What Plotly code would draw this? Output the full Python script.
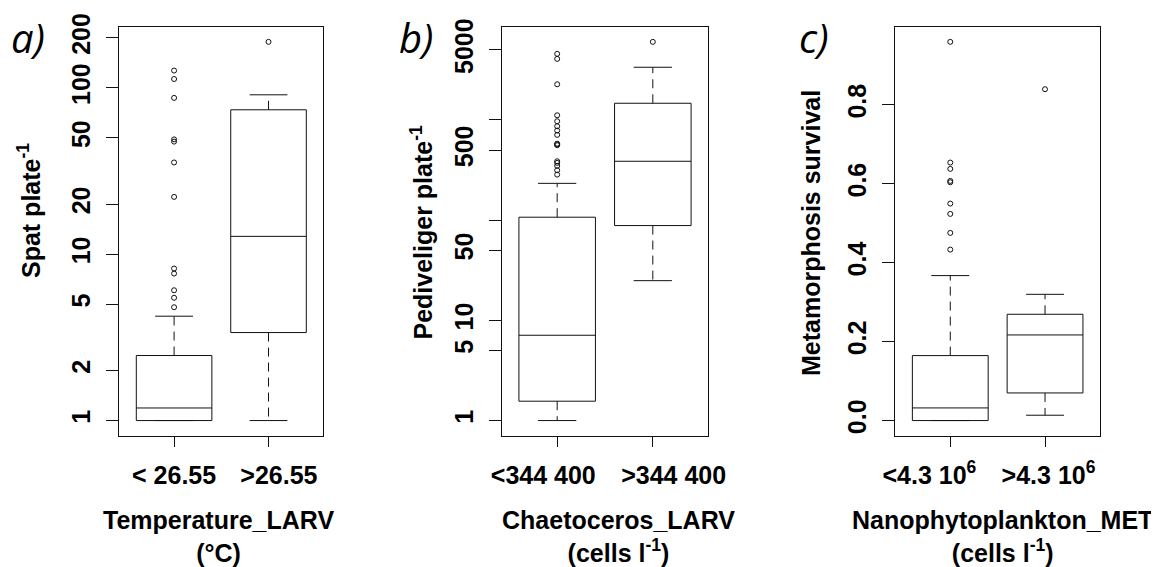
import plotly.graph_objects as go
import math

# ---------------- data ----------------
positions = [1, 2]

# Panel a: Spat plate^-1 by Temperature_LARV
a_labels = ["< 26.55", ">26.55"]
a_low = [1.0, 1.0]
a_q1 = [1.0, 3.38]
a_med = [1.19, 12.8]
a_q3 = [2.46, 73.8]
a_high = [4.24, 90.8]
a_out = [[4.8, 5.47, 6.07, 7.65, 8.2, 22.1, 35.6, 47.5, 49.0, 87.0, 113.0, 127.0],
         [189.0]]

# Panel b: Pediveliger plate^-1 by Chaetoceros_LARV
b_labels = ["<344 400", ">344 400"]
b_low = [1.0, 24.9]
b_q1 = [1.56, 88.3]
b_med = [7.1, 387.0]
b_q3 = [107.0, 1468.0]
b_high = [233.0, 3357.0]
b_out = [[285.0, 315.0, 348.0, 373.0, 387.0, 560.0, 570.0, 580.0, 710.0, 784.0,
          865.0, 971.0, 1114.0, 2270.0, 4070.0, 4570.0],
         [6020.0]]

# Panel c: Metamorphosis survival by Nanophytoplankton_MET
c_labels = ["<4.3 10<sup>6</sup>", ">4.3 10<sup>6</sup>"]
c_low = [0.0, 0.0135]
c_q1 = [0.0, 0.070]
c_med = [0.032, 0.217]
c_q3 = [0.1647, 0.2694]
c_high = [0.3675, 0.320]
c_out = [[0.4334, 0.4757, 0.5238, 0.550, 0.6040, 0.6075, 0.638, 0.654, 0.96],
         [0.840]]

a_yticks = [1, 2, 5, 10, 20, 50, 100, 200]
a_yticktext = ["1", "2", "5", "10", "20", "50", "100", "200"]
b_yticks = [1, 5, 10, 50, 500, 5000]
b_yticktext = ["1", "5", "10", "50", "500", "5000"]
b_yminor = [100, 1000]          # unlabeled ticks
c_yticks = [0.0, 0.2, 0.4, 0.6, 0.8]
c_yticktext = ["0.0", "0.2", "0.4", "0.6", "0.8"]

a_ytitle = "Spat plate<sup>-1</sup>"
b_ytitle = "Pediveliger plate<sup>-1</sup>"
c_ytitle = "Metamorphosis survival"
a_xtitle = "Temperature_LARV<br>(°C)"
b_xtitle = "Chaetoceros_LARV<br>(cells l<sup>-1</sup>)"
c_xtitle = "Nanophytoplankton_MET<br>(cells l<sup>-1</sup>)"
panel_letters = ["a)", "b)", "c)"]

# ---------------- style / layout helpers ----------------
FONT = "Liberation Sans, Arial, sans-serif"
BLACK = "#111111"
BOXW = 0.8
CAPW = 0.4
NB = "\u00a0"

# page body has an 8px margin: size the figure to fit the window
OFF = 8
W, H = 1159 - OFF, 567 - OFF


def px_x(X):
    return (X - OFF) / W


def px_y(Y):
    return (567 - Y) / H


# label padding (non-breaking spaces) to shift tick texts off-centre like the original
pads = [(0, 0, 3, 0), (0, 4, 6, 0), (0, 6, 1, 0)]

fig = go.Figure()

panels = [
    dict(low=a_low, q1=a_q1, med=a_med, q3=a_q3, high=a_high, out=a_out, log=True,
         xa="x", ya="y"),
    dict(low=b_low, q1=b_q1, med=b_med, q3=b_q3, high=b_high, out=b_out, log=True,
         xa="x2", ya="y2"),
    dict(low=c_low, q1=c_q1, med=c_med, q3=c_q3, high=c_high, out=c_out, log=False,
         xa="x3", ya="y3"),
]

for p in panels:
    # boxes with median
    fig.add_trace(go.Box(
        x=positions, q1=p["q1"], median=p["med"], q3=p["q3"],
        lowerfence=p["q1"], upperfence=p["q3"],
        width=BOXW, whiskerwidth=0, boxpoints=False,
        fillcolor="rgba(255,255,255,0)",
        line=dict(color=BLACK, width=1),
        xaxis=p["xa"], yaxis=p["ya"], showlegend=False, hoverinfo="skip"))
    # dashed whiskers
    wx, wy = [], []
    for i, pos in enumerate(positions):
        wx += [pos, pos, None, pos, pos, None]
        wy += [p["q3"][i], p["high"][i], None, p["q1"][i], p["low"][i], None]
    fig.add_trace(go.Scatter(x=wx, y=wy, mode="lines",
                             line=dict(color=BLACK, width=1, dash="9px,6px"),
                             xaxis=p["xa"], yaxis=p["ya"], showlegend=False,
                             hoverinfo="skip"))
    # whisker caps
    cx, cy = [], []
    for i, pos in enumerate(positions):
        cx += [pos - CAPW / 2, pos + CAPW / 2, None, pos - CAPW / 2, pos + CAPW / 2, None]
        cy += [p["high"][i], p["high"][i], None, p["low"][i], p["low"][i], None]
    fig.add_trace(go.Scatter(x=cx, y=cy, mode="lines",
                             line=dict(color=BLACK, width=1),
                             xaxis=p["xa"], yaxis=p["ya"], showlegend=False,
                             hoverinfo="skip"))
    # outliers
    ox, oy = [], []
    for i, pos in enumerate(positions):
        ox += [pos] * len(p["out"][i])
        oy += p["out"][i]
    fig.add_trace(go.Scatter(x=ox, y=oy, mode="markers",
                             marker=dict(symbol="circle-open", size=5,
                                         color=BLACK, line=dict(width=1, color=BLACK)),
                             xaxis=p["xa"], yaxis=p["ya"], showlegend=False,
                             hoverinfo="skip"))


def yrange(p):
    vals = p["low"] + p["high"] + [v for g in p["out"] for v in g]
    lo, hi = min(vals), max(vals)
    if p["log"]:
        lo, hi = math.log10(lo), math.log10(hi)
    pad = 0.04 * (hi - lo)
    return [lo - pad, hi + pad]


xdomains = [[px_x(119.3), px_x(323.3)], [px_x(501.7), px_x(708.3)], [px_x(895.3), px_x(1100)]]
ydomain = [px_y(435.7), px_y(26.7)]
xlabels = [a_labels, b_labels, c_labels]
yticks = [(a_yticks, a_yticktext, []), (b_yticks, b_yticktext, b_yminor),
          (c_yticks, c_yticktext, [])]

common_axis = dict(showline=True, linecolor=BLACK, linewidth=1, mirror=True,
                   showgrid=False, zeroline=False, ticks="outside",
                   tickcolor=BLACK, tickwidth=1, automargin=False,
                   tickfont=dict(family=FONT, size=25, color="#000000", weight="bold"))

layout_axes = {}
for k, p in enumerate(panels):
    sx = "" if k == 0 else str(k + 1)
    l1, r1, l2, r2 = pads[k]
    ttext = [NB * l1 + xlabels[k][0] + NB * r1, NB * l2 + xlabels[k][1] + NB * r2]
    layout_axes["xaxis" + sx] = dict(
        common_axis, domain=xdomains[k], anchor="y" + sx,
        range=[0.42, 2.58], tickmode="array", tickvals=positions,
        ticktext=ttext, ticklen=10, tickangle=0, ticklabelstandoff=7)
    yax = dict(
        common_axis, domain=ydomain, anchor="x" + sx,
        type="log" if p["log"] else "linear", range=yrange(p),
        tickmode="array", tickvals=yticks[k][0], ticktext=yticks[k][1],
        ticklen=12, tickangle=-90, ticklabelstandoff=6)
    if yticks[k][2]:
        yax["minor"] = dict(tickmode="array", tickvals=yticks[k][2], ticks="outside",
                            ticklen=12, tickcolor=BLACK, tickwidth=1, showgrid=False)
    layout_axes["yaxis" + sx] = yax

fig.update_layout(**layout_axes)

title_font = dict(family=FONT, size=25, color="#000000", weight="bold")
annotations = []
# y titles
for (X, Y, txt) in [(29, 211, a_ytitle), (421, 232.5, b_ytitle), (811.7, 233.3, c_ytitle)]:
    annotations.append(dict(x=px_x(X), y=px_y(Y), xref="paper", yref="paper", text=txt,
                            textangle=-90, showarrow=False, font=title_font,
                            xanchor="center", yanchor="middle"))
# x titles
for (X, txt) in [(218, a_xtitle), (618, b_xtitle), (1002, c_xtitle)]:
    annotations.append(dict(x=px_x(X), y=px_y(536), xref="paper", yref="paper", text=txt,
                            showarrow=False, font=title_font,
                            xanchor="center", yanchor="middle"))
# panel letters
for (X, txt) in [(28, panel_letters[0]), (416, panel_letters[1]), (814, panel_letters[2])]:
    annotations.append(dict(x=px_x(X), y=1.0, xref="paper", yref="paper",
                            text="<i>" + txt + "</i>", showarrow=False,
                            font=dict(family="Open Sans, sans-serif", size=40, color="#000000"),
                            xanchor="center", yanchor="top"))

fig.update_layout(
    width=W, height=H, autosize=False,
    margin=dict(l=0, r=0, t=0, b=0, pad=0),
    paper_bgcolor="white", plot_bgcolor="white",
    showlegend=False, annotations=annotations,
)

fig.write_html("out.html")
